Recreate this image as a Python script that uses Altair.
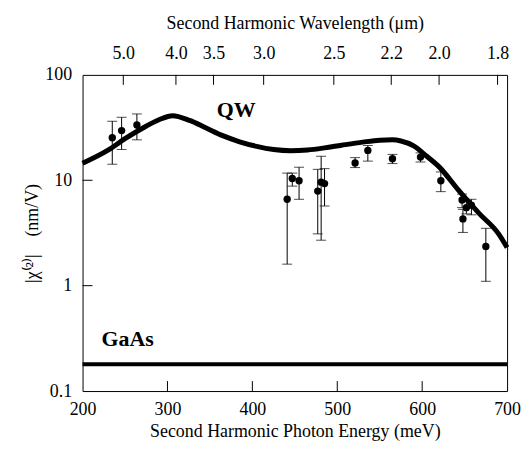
import altair as alt
import pandas as pd

# ---- data ----
energy_pts = [235, 246, 264, 441, 447, 455, 477, 481, 485, 521, 536, 565, 598, 622, 647, 652, 658, 648, 675]
chi_pts = [25.3, 29.6, 33.5, 6.6, 10.4, 9.9, 7.9, 9.6, 9.3, 14.6, 19.2, 16.0, 16.6, 9.9, 6.5, 5.5, 5.8, 4.3, 2.35]
chi_lo = [14.2, 19.6, 24.2, 1.6, 8.8, 6.6, 3.1, 2.7, 5.7, 13.2, 15.2, 14.4, 14.9, 7.8, 5.5, 4.8, 4.7, 3.2, 1.1]
chi_hi = [36.3, 39.6, 42.6, 11.7, 11.7, 13.3, 12.7, 16.9, 12.9, 16.4, 21.4, 17.6, 18.2, 12.0, 7.4, 6.4, 6.6, 5.3, 3.5]

curve_e = [200, 230, 250, 270, 290, 306, 326, 345, 365, 385, 405, 425, 445, 465, 485, 505,
           530, 550, 565, 575, 590, 605, 620, 643, 667, 690, 700]
curve_chi = [14.5, 19.3, 24.8, 31.0, 37.5, 41.0, 37.0, 31.5, 26.5, 23.2, 21.0, 19.6, 19.1, 19.4, 20.3, 21.5,
             23.0, 24.0, 24.2, 23.6, 21.2, 17.0, 13.4, 8.0, 4.85, 3.1, 2.3]

gaas_chi = [0.18]

energy_ticks = [200, 300, 400, 500, 600, 700]
wavelength_ticks = [5.0, 4.0, 3.5, 3.0, 2.5, 2.2, 2.0, 1.8]
chi_ticks = [0.1, 1, 10, 100]

labels_text = ["QW", "GaAs"]
labels_e = [381, 253]
labels_chi = [46.0, 0.31]

HC = 1239.84  # meV * um

# ---- tables ----
pts = pd.DataFrame({"E": energy_pts, "chi": chi_pts, "lo": chi_lo, "hi": chi_hi})
curve = pd.DataFrame({"E": curve_e, "chi": curve_chi})
gaas = pd.DataFrame({"chi": gaas_chi})
top_df = pd.DataFrame({"E": [HC / w for w in wavelength_ticks]})
bot_df = pd.DataFrame({"E": energy_ticks[1:-1]})
left_df = pd.DataFrame({"chi": chi_ticks[1:-1]})
lab_df = pd.DataFrame({"t": labels_text, "E": labels_e, "chi": labels_chi})

W, H = 427, 318
FONT = "Liberation Serif"

xs = alt.Scale(domain=[200, 700], nice=False, zero=False)
ys = alt.Scale(type="log", domain=[0.1, 100], nice=False)

base_axis = dict(labelFont=FONT, titleFont=FONT, labelFontSize=18, titleFontSize=18,
                 titleFontWeight="normal", labelColor="black", titleColor="black",
                 grid=False, domain=False, ticks=False, labelFlush=False, labelOverlap=False)

NB = "\u00a0"

line = alt.Chart(curve).mark_line(color="black", strokeWidth=5, interpolate="monotone").encode(
    x=alt.X("E:Q", scale=xs, axis=alt.Axis(values=energy_ticks, orient="bottom",
            title="Second Harmonic Photon Energy (meV)", labelPadding=10, titlePadding=4,
            **base_axis)),
    y=alt.Y("chi:Q", scale=ys, axis=alt.Axis(values=chi_ticks, format="~g", orient="left",
            title=f"|χ⁽²⁾|{NB}{NB}{NB}{NB}(nm/V)", labelPadding=11, titlePadding=3, **base_axis)),
)

top_ticks = alt.Chart(top_df).mark_rule(color="black", strokeWidth=1).encode(
    x=alt.X("E:Q", scale=xs, axis=alt.Axis(values=[HC / w for w in wavelength_ticks], orient="top",
            labelExpr=f"format({HC}/datum.value, '.1f')",
            title="Second Harmonic Wavelength (μm)", labelPadding=12, titlePadding=13,
            **base_axis)),
    y=alt.value(0), y2=alt.value(10),
)

bot_ticks = alt.Chart(bot_df).mark_rule(color="black", strokeWidth=1).encode(
    x=alt.X("E:Q", scale=xs, axis=None),
    y=alt.value(H), y2=alt.value(H - 10),
)

left_ticks = alt.Chart(left_df).mark_rule(color="black", strokeWidth=1).encode(
    y=alt.Y("chi:Q", scale=ys, axis=None),
    x=alt.value(0), x2=alt.value(10),
)

gaas_line = alt.Chart(gaas).mark_rule(color="black", strokeWidth=4).encode(
    y=alt.Y("chi:Q", scale=ys, axis=None),
)

err = alt.Chart(pts).mark_rule(color="black", strokeWidth=1).encode(
    x=alt.X("E:Q", scale=xs, axis=None),
    y=alt.Y("lo:Q", scale=ys, axis=None),
    y2="hi:Q",
)
cap_lo = alt.Chart(pts).mark_tick(color="black", orient="horizontal", size=10, thickness=1).encode(
    x=alt.X("E:Q", scale=xs, axis=None),
    y=alt.Y("lo:Q", scale=ys, axis=None),
)
cap_hi = alt.Chart(pts).mark_tick(color="black", orient="horizontal", size=10, thickness=1).encode(
    x=alt.X("E:Q", scale=xs, axis=None),
    y=alt.Y("hi:Q", scale=ys, axis=None),
)
dots = alt.Chart(pts).mark_circle(color="black", size=55, opacity=1).encode(
    x=alt.X("E:Q", scale=xs, axis=None),
    y=alt.Y("chi:Q", scale=ys, axis=None),
)

texts = alt.Chart(lab_df).mark_text(font=FONT, fontSize=22, fontWeight="bold", color="black",
                                    align="center", baseline="middle").encode(
    x=alt.X("E:Q", scale=xs, axis=None),
    y=alt.Y("chi:Q", scale=ys, axis=None),
    text="t:N",
)

chart = alt.layer(line, top_ticks, bot_ticks, left_ticks, gaas_line, err, cap_lo, cap_hi, dots, texts).resolve_axis(
    x="independent", y="independent"
).properties(
    width=W, height=H,
    autosize=alt.AutoSizeParams(type="none"),
    padding={"left": 75, "top": 66, "right": 14, "bottom": 54},
    background="white",
).configure_view(stroke="black", strokeWidth=1)

chart.save("out.html", embed_options={"renderer": "svg", "actions": False})
